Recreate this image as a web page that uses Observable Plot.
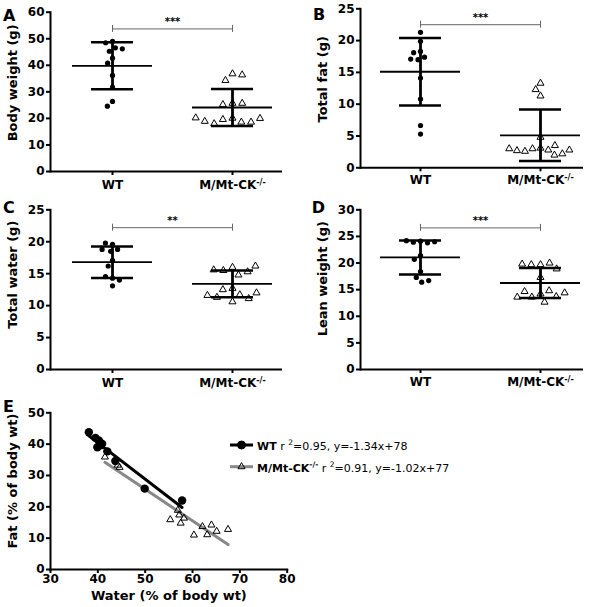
<!DOCTYPE html>
<html>
<head>
<meta charset="utf-8">
<script src="https://cdn.jsdelivr.net/npm/d3@7"></script>
<script src="https://cdn.jsdelivr.net/npm/@observablehq/plot@0.6"></script>
<style>
html, body { margin: 0; padding: 0; background: #fff; }
#fig { position: relative; width: 602px; height: 607px; overflow: hidden; background: #fff; }
#fig svg { position: absolute; overflow: visible !important; background: transparent !important;
  font-family: "DejaVu Sans", sans-serif !important; max-width: none !important; }
#fig svg [aria-label^="y-axis"] path, #fig svg [aria-label^="y-axis"] line,
#fig svg [aria-label^="x-axis"] path, #fig svg [aria-label^="x-axis"] line,
#fig svg [aria-label="frame"], #fig svg [aria-label="frame"] * { stroke-width: 2px; }
</style>
</head>
<body>
<div id="fig"></div>
<script>
// ---------- data ----------
const groups = ["WT", "M/Mt-CK-/-"];

// A: Body weight (g)
const bodyWT = [49.0, 48.5, 46.6, 45.3, 46.2, 42.7, 40.8, 36.2, 31.8, 26.4, 24.6];
const bodyKO = [36.8, 34.3, 36.4, 25.7, 25.2, 25.7, 20.1, 19.6, 18.6, 18.0, 18.6, 18.9, 20.0, 20.2];
const bodyMean = [39.8, 24.1];
const bodySD = [8.85, 7.0];
const bodyTicks = [0, 10, 20, 30, 40, 50, 60];
const bodySig = {y: 53.7, label: "***"};

// B: Total fat (g)
const fatWT = [21.3, 19.9, 18.3, 18.1, 17.4, 17.0, 17.1, 14.1, 10.8, 6.65, 5.3];
const fatKO = [13.3, 12.3, 11.3, 4.8, 3.1, 3.0, 2.8, 2.6, 2.0, 2.2, 2.7, 2.8, 3.0, 3.5];
const fatMean = [15.1, 5.1];
const fatSD = [5.3, 4.05];
const fatTicks = [0, 5, 10, 15, 20, 25];
const fatSig = {y: 22.5, label: "***"};

// C: Total water (g)
const waterWT = [19.6, 19.8, 18.8, 18.5, 18.8, 17.1, 16.2, 14.3, 14.55, 14.0, 13.1];
const waterKO = [16.0, 15.5, 14.8, 15.3, 15.6, 16.2, 12.7, 12.5, 11.7, 11.3, 10.6, 11.1, 11.6, 12.0];
const waterMean = [16.8, 13.4];
const waterSD = [2.47, 2.1];
const waterTicks = [0, 5, 10, 15, 20, 25];
const waterSig = {y: 22.2, label: "**"};

// D: Lean weight (g)
const leanWT = [24.1, 23.9, 23.8, 24.0, 24.2, 21.4, 20.7, 18.4, 17.3, 16.4, 16.7];
const leanKO = [19.7, 19.7, 20.0, 18.9, 19.8, 17.3, 14.2, 13.6, 14.8, 14.65, 13.7, 14.4, 12.65, 13.6];
const leanMean = [21.05, 16.25];
const leanSD = [3.2, 2.8];
const leanTicks = [0, 5, 10, 15, 20, 25, 30];
const leanSig = {y: 26.6, label: "***"};

// E: Fat vs water (% of body wt)
const wtWater = [38.1, 39.5, 40.2, 40.6, 39.9, 40.9, 40.4, 42.0, 43.7, 49.9, 57.8];
const wtFat   = [43.8, 42.0, 41.2, 39.6, 39.0, 40.1, 40.6, 37.7, 34.6, 25.8, 22.0];
const koWater = [41.5, 44.2, 44.6, 55.3, 56.9, 57.2, 57.5, 58.2, 60.3, 62.1, 63.1, 64.0, 65.1, 67.5];
const koFat   = [35.9, 33.3, 32.6, 15.9, 18.9, 17.4, 14.8, 16.4, 11.0, 13.7, 11.1, 14.2, 12.2, 12.8];
const eTicksX = [30, 40, 50, 60, 70, 80];
const eTicksY = [0, 10, 20, 30, 40, 50];
const legendText = [
  {name: "WT", sup: "", r2: "0.95", eq: "y=-1.34x+78"},
  {name: "M/Mt-CK", sup: "-/-", r2: "0.91", eq: "y=-1.02x+77"}
];

// ---------- helpers ----------
const fig = document.getElementById("fig");
function place(svg, left, top) {
  svg.style.left = left + "px";
  svg.style.top = top + "px";
  fig.appendChild(svg);
}
function supify(svg) {
  svg.querySelectorAll("text, tspan").forEach(t => {
    if (t.children.length) return;
    const m = (t.textContent || "").match(/^(.*CK)(-\/-)$/);
    if (!m) return;
    t.textContent = m[1];
    const ts = document.createElementNS("http://www.w3.org/2000/svg", "tspan");
    ts.setAttribute("dy", "-0.5em");
    ts.setAttribute("font-size", "8px");
    ts.textContent = m[2];
    t.appendChild(ts);
  });
}

function stripPanel(p) {
  const pts = [...p.wt.map(v => ({g: groups[0], v})), ...p.ko.map(v => ({g: groups[1], v}))];
  const stats = groups.map((g, i) => ({g, mean: p.mean[i], sd: p.sd[i]}));
  const bw = (p.width - p.bandL - p.bandR) / 2;
  const base = Plot.plot({
    width: p.width, height: p.height,
    marginTop: p.mt, marginBottom: p.mb, marginLeft: p.bandL, marginRight: p.bandR,
    style: {background: "transparent"},
    fx: {domain: groups, padding: 0, axis: null},
    y: {domain: [0, p.ymax], axis: null},
    marks: [
      Plot.ruleY(stats, {fx: "g", y: "mean", insetLeft: 20, insetRight: 20, strokeWidth: 1.8}),
      Plot.ruleY(stats, {fx: "g", y: d => d.mean + d.sd, insetLeft: 39, insetRight: 39, strokeWidth: 2.5}),
      Plot.ruleY(stats, {fx: "g", y: d => d.mean - d.sd, insetLeft: 39, insetRight: 39, strokeWidth: 2.5}),
      Plot.ruleX(stats, {fx: "g", x: null, y1: d => d.mean - d.sd, y2: d => d.mean + d.sd, strokeWidth: 2.8}),
      Plot.dot(pts.filter(d => d.g === groups[0]),
        Plot.dodgeX({anchor: "middle", padding: p.padWT}, {fx: "g", y: "v", r: 2.6, fill: "black", stroke: null})),
      Plot.dot(pts.filter(d => d.g === groups[1]),
        Plot.dodgeX({anchor: "middle", padding: p.padKO}, {fx: "g", y: "v", r: 2.6, symbol: "triangle", fill: "none", stroke: "black", strokeWidth: 1}))
    ]
  });
  place(base, p.left, p.top);

  const c1 = p.bandL + bw / 2, c2 = p.bandL + 1.5 * bw;
  const pxPerUnit = (p.height - p.mt - p.mb) / p.ymax;
  const half = 3.5 / pxPerUnit;
  const sigData = [{from: groups[0], to: groups[1], y: p.sig.y, label: p.sig.label}];
  const sigEnds = groups.map(g => ({g, y: p.sig.y}));
  const over = Plot.plot({
    width: p.width, height: p.height,
    marginTop: p.mt, marginBottom: p.mb, marginLeft: p.axisL, marginRight: p.axisR,
    style: {background: "transparent", fontSize: "12px", fontWeight: "bold", color: "black"},
    x: {type: "point", domain: groups, range: [c1, c2], padding: 0, tickSize: 4, tickPadding: p.xPad, label: null},
    y: {domain: [0, p.ymax], ticks: p.ticks, tickSize: 4, tickPadding: 2, label: null, line: true},
    marks: [
      Plot.ruleY([0], {strokeWidth: 2}),
      Plot.link(sigData, {x1: "from", x2: "to", y1: "y", y2: "y", stroke: "#666", strokeWidth: 1}),
      Plot.ruleX(sigEnds, {x: "g", y1: d => d.y - half, y2: d => d.y + half, stroke: "#666", strokeWidth: 1}),
      Plot.text(sigData, {x: "from", y: "y", dx: (c2 - c1) / 2, dy: -7, text: "label", fontSize: 10}),
      Plot.text([p.label], {frameAnchor: "left", textAnchor: "middle", lineAnchor: "middle", rotate: -90,
        dx: -38, dy: p.labelDy, fontSize: 13})
    ]
  });
  supify(over);
  place(over, p.left, p.top);
}

// ---------- panels A-D ----------
stripPanel({left: 0, top: 0, width: 300, height: 200, mt: 11.7, mb: 29, axisL: 50, axisR: 18, bandL: 52, bandR: 8,
  ymax: 60, ticks: bodyTicks, wt: bodyWT, ko: bodyKO, mean: bodyMean, sd: bodySD, sig: bodySig,
  label: "Body weight (g)", labelDy: -9, padWT: 1.8, padKO: 4.5, xPad: 5});
stripPanel({left: 300, top: 0, width: 302, height: 200, mt: 8.3, mb: 32.7, axisL: 60, axisR: 19, bandL: 60, bandR: 2,
  ymax: 25, ticks: fatTicks, wt: fatWT, ko: fatKO, mean: fatMean, sd: fatSD, sig: fatSig,
  label: "Total fat (g)", labelDy: -9, padWT: 1.8, padKO: 2.8, xPad: 4});
stripPanel({left: 0, top: 195, width: 300, height: 200, mt: 14.3, mb: 26, axisL: 50, axisR: 18, bandL: 52, bandR: 8,
  ymax: 25, ticks: waterTicks, wt: waterWT, ko: waterKO, mean: waterMean, sd: waterSD, sig: waterSig,
  label: "Total water (g)", labelDy: -15, padWT: 2, padKO: 4.5, xPad: 5});
stripPanel({left: 300, top: 195, width: 302, height: 200, mt: 14.3, mb: 26, axisL: 60, axisR: 19, bandL: 60, bandR: 2,
  ymax: 30, ticks: leanTicks, wt: leanWT, ko: leanKO, mean: leanMean, sd: leanSD, sig: leanSig,
  label: "Lean weight (g)", labelDy: -11, padWT: 2, padKO: 4, xPad: 4});

// ---------- panel E ----------
const wtPts = wtWater.map((w, i) => ({water: w, fat: wtFat[i]}));
const koPts = koWater.map((w, i) => ({water: w, fat: koFat[i]}));
const plotE = Plot.plot({
  width: 300, height: 212, marginTop: 17.3, marginBottom: 38, marginLeft: 50, marginRight: 13.3,
  style: {background: "transparent", fontSize: "12px", fontWeight: "bold", color: "black"},
  x: {domain: [30, 80], ticks: eTicksX, tickSize: 4, tickPadding: 1, label: null, line: true},
  y: {domain: [0, 50], ticks: eTicksY, tickSize: 4, tickPadding: 2, label: null, line: true},
  marks: [
    Plot.linearRegressionY(koPts, {x: "water", y: "fat", stroke: "#888", strokeWidth: 3, ci: 0}),
    Plot.linearRegressionY(wtPts, {x: "water", y: "fat", stroke: "black", strokeWidth: 3, ci: 0}),
    Plot.dot(koPts, {x: "water", y: "fat", r: 2.6, symbol: "triangle", fill: "none", stroke: "black", strokeWidth: 1}),
    Plot.dot(wtPts, {x: "water", y: "fat", r: 4.2, fill: "black", stroke: null}),
    Plot.text(["Fat (% of body wt)"], {frameAnchor: "left", textAnchor: "middle", lineAnchor: "middle", rotate: -90,
      dx: -38, dy: -10, fontSize: 13}),
    Plot.text(["Water (% of body wt)"], {frameAnchor: "bottom", textAnchor: "middle", lineAnchor: "middle",
      dy: 26, fontSize: 13})
  ]
});
place(plotE, 0, 395);

// ---------- letters & legend ----------
const bg = d3.select(fig).append("svg")
  .attr("width", 602).attr("height", 607)
  .style("left", "0px").style("top", "0px")
  .style("font-family", "'DejaVu Sans', sans-serif");
[["A", 3, 20.7], ["B", 313, 20], ["C", 3, 213.3], ["D", 311.7, 213.3], ["E", 3, 411.7]].forEach(([t, x, y]) =>
  bg.append("text").attr("x", x).attr("y", y).attr("font-size", 16).attr("font-weight", "bold").text(t));

const legRows = [
  {y: 445, stroke: "black", symbol: d3.symbolCircle, size: Math.PI * 4 * 4, fill: "black"},
  {y: 466.7, stroke: "#888", symbol: d3.symbolTriangle, size: Math.PI * 2.6 * 2.6, fill: "none"}
];
legRows.forEach((r, i) => {
  const g = bg.append("g");
  g.append("line").attr("x1", 230).attr("x2", 253).attr("y1", r.y).attr("y2", r.y)
    .attr("stroke", r.stroke).attr("stroke-width", 3);
  g.append("path").attr("d", d3.symbol(r.symbol, r.size)()).attr("transform", `translate(241.5,${r.y})`)
    .attr("fill", r.fill).attr("stroke", "black").attr("stroke-width", 1);
  const L = legendText[i];
  const t = g.append("text").attr("x", 257).attr("y", r.y + 5.2).attr("font-size", 11);
  t.append("tspan").attr("font-weight", "bold").text(L.name);
  if (L.sup) t.append("tspan").attr("font-weight", "bold").attr("font-size", 7.5).attr("dy", -5).text(L.sup);
  t.append("tspan").attr("dy", L.sup ? 5 : 0).text(" r ");
  t.append("tspan").attr("font-size", 7.5).attr("dy", -5).text("2");
  t.append("tspan").attr("dy", 5).text(`=${L.r2}, ${L.eq}`);
});
</script>
</body>
</html>
